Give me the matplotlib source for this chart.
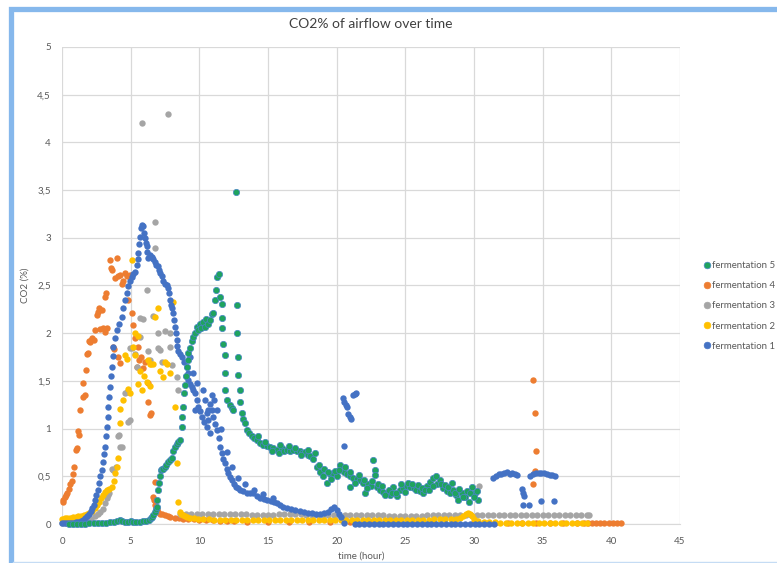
import matplotlib
matplotlib.use("Agg")
import matplotlib.pyplot as plt
from matplotlib.patches import Rectangle
from matplotlib.lines import Line2D
from matplotlib.ticker import FuncFormatter, MultipleLocator

plt.rcParams['font.family'] = ['Lato', 'DejaVu Sans']

# fermentation 1 (blue)
f1 = [(0.0, 0.01), (0.15, 0.01), (0.3, 0.01), (0.45, 0.01), (0.6, 0.01), (0.75, 0.01), (0.9, 0.01),
      (1.05, 0.02), (1.2, 0.02), (1.35, 0.03), (1.5, 0.04), (1.65, 0.06), (1.8, 0.08), (1.95, 0.11),
      (2.1, 0.14), (2.2, 0.17), (2.3, 0.2), (2.4, 0.25), (2.5, 0.3), (2.6, 0.36), (2.7, 0.43), (2.8, 0.5),
      (2.9, 0.57), (2.97, 0.65), (3.05, 0.73), (3.13, 0.81), (3.2, 0.92), (3.26, 1.02), (3.32, 1.12),
      (3.37, 1.23), (3.44, 1.33), (3.5, 1.44), (3.56, 1.55), (3.62, 1.65), (3.68, 1.76), (3.74, 1.86),
      (3.85, 1.95), (3.98, 2.03), (4.15, 2.1), (4.35, 2.17), (4.47, 2.26), (4.59, 2.35), (4.7, 2.42),
      (4.83, 2.49), (4.95, 2.55), (5.07, 2.59), (5.2, 2.62), (5.3, 2.64), (5.44, 2.71), (5.5, 2.78),
      (5.56, 2.84), (5.62, 2.93), (5.68, 3.01), (5.75, 3.1), (5.8, 3.13), (5.92, 3.12), (5.98, 3.05),
      (6.05, 3.0), (6.1, 2.95), (6.17, 2.91), (6.22, 2.85), (6.28, 2.79), (6.4, 2.82), (6.53, 2.8),
      (6.65, 2.78), (6.77, 2.75), (6.88, 2.72), (7.0, 2.7), (7.07, 2.66), (7.14, 2.63), (7.25, 2.6),
      (7.38, 2.55), (7.5, 2.52), (7.62, 2.5), (7.74, 2.47), (7.8, 2.42), (7.87, 2.35), (7.95, 2.3),
      (8.02, 2.26), (8.1, 2.21), (8.16, 2.14), (8.23, 2.07), (8.3, 2.0), (8.35, 1.93), (8.41, 1.87),
      (8.47, 1.81), (8.6, 1.78), (8.72, 1.75), (8.9, 1.7), (9.08, 1.65), (9.14, 1.58), (9.2, 1.51),
      (9.32, 1.47), (9.44, 1.44), (9.56, 1.4), (9.69, 1.37), (9.81, 1.3), (9.93, 1.23), (10.05, 1.18),
      (10.17, 1.12), (10.35, 1.07), (10.54, 1.02), (10.66, 1.2), (10.78, 1.26), (10.9, 1.2), (11.02, 1.12),
      (11.15, 1.05), (11.27, 0.99), (11.4, 0.9), (11.5, 0.81), (11.62, 0.74), (11.75, 0.68), (11.87, 0.64),
      (12.0, 0.58), (12.12, 0.53), (12.24, 0.49), (12.36, 0.46), (12.5, 0.42), (12.66, 0.39), (12.8, 0.38),
      (12.96, 0.36), (13.2, 0.35), (13.45, 0.33), (13.7, 0.32), (13.93, 0.32), (14.2, 0.29), (14.45, 0.27),
      (14.7, 0.26), (14.9, 0.25), (15.2, 0.24), (15.45, 0.23), (15.64, 0.22), (15.9, 0.2), (16.1, 0.18),
      (16.4, 0.17), (16.7, 0.16), (17.0, 0.15), (17.3, 0.14), (17.6, 0.13), (17.9, 0.12), (18.2, 0.12),
      (18.5, 0.11), (18.8, 0.11), (19.1, 0.12), (19.4, 0.13), (19.6, 0.16), (19.8, 0.18), (20.0, 0.15),
      (20.2, 0.11), (20.35, 0.07),
      (9.32, 1.75), (9.56, 1.58), (9.81, 1.48), (10.3, 1.4), (10.4, 1.3), (10.54, 1.16), (10.66, 1.09),
      (10.78, 0.95), (9.0, 1.55), (9.7, 1.2), (10.9, 1.35), (11.1, 1.3), (11.3, 1.2), (11.6, 1.0),
      (12.0, 0.75), (12.4, 0.6), (12.8, 0.48), (13.3, 0.42), (14.0, 0.36), (14.6, 0.31), (15.4, 0.27),
      (20.45, 1.32), (20.55, 1.28), (20.65, 1.25), (20.73, 1.23), (20.85, 1.15), (20.98, 1.12),
      (21.05, 1.1), (21.2, 1.35), (21.3, 1.36), (21.4, 1.37), (20.5, 0.82), (20.5, 0.01),
      (21.3, 0.0), (21.65, 0.0), (22.0, 0.0), (22.35, 0.0), (22.7, 0.0), (23.05, 0.0), (23.4, 0.0),
      (23.75, 0.0), (24.1, 0.0), (24.45, 0.0), (24.8, 0.0), (25.15, 0.0), (25.5, 0.0), (25.85, 0.0),
      (26.2, 0.0), (26.55, 0.0), (26.9, 0.0), (27.25, 0.0), (27.6, 0.0), (27.95, 0.0), (28.3, 0.0),
      (28.65, 0.0), (29.0, 0.0), (29.35, 0.0), (29.7, 0.0), (30.05, 0.0), (30.4, 0.0), (30.75, 0.0),
      (31.1, 0.0), (31.45, 0.0),
      (31.4, 0.48), (31.6, 0.5), (31.8, 0.52), (32.0, 0.52), (32.2, 0.53), (32.4, 0.54), (32.6, 0.52),
      (32.8, 0.53), (33.0, 0.52), (33.1, 0.51), (33.5, 0.37), (33.6, 0.33), (33.65, 0.29), (33.6, 0.2),
      (34.0, 0.2), (34.1, 0.5), (34.3, 0.52), (34.5, 0.53), (34.7, 0.53), (34.9, 0.53), (35.1, 0.53),
      (35.3, 0.52), (35.5, 0.51), (35.7, 0.51), (35.9, 0.5), (34.9, 0.24), (35.8, 0.24)]

# fermentation 2 (yellow)
f2 = [(0.0, 0.05), (0.2, 0.06), (0.4, 0.06), (0.6, 0.06), (0.8, 0.07), (1.0, 0.07), (1.2, 0.08),
      (1.4, 0.08), (1.6, 0.09), (1.8, 0.1), (2.0, 0.12), (2.2, 0.14), (2.4, 0.17), (2.55, 0.2),
      (2.7, 0.23), (2.85, 0.27), (3.0, 0.3), (3.13, 0.34), (3.3, 0.36), (3.45, 0.37), (3.62, 0.39),
      (3.75, 0.45), (3.86, 0.53), (3.98, 0.6), (4.1, 0.69), (4.22, 1.06), (4.22, 1.21), (4.45, 1.3),
      (4.59, 1.77), (4.7, 1.73), (4.83, 1.42), (4.95, 1.37), (5.07, 2.77), (5.2, 1.86), (5.3, 2.0),
      (5.3, 1.77), (5.5, 1.97), (5.56, 1.47), (5.68, 1.6), (5.8, 1.4), (6.0, 1.55), (6.17, 1.49),
      (6.28, 1.72), (6.4, 1.45), (6.4, 1.68), (6.5, 1.68), (6.65, 1.68), (6.77, 2.17), (7.0, 2.26),
      (7.14, 1.6), (7.38, 1.54), (7.5, 1.7), (7.62, 1.68), (7.87, 1.58), (8.1, 2.33), (8.23, 1.23),
      (8.35, 0.64), (8.47, 0.23),
      (8.6, 0.13), (8.7, 0.1), (8.8, 0.09), (8.95, 0.08), (9.1, 0.07), (9.3, 0.06), (9.6, 0.06),
      (9.9, 0.05), (10.3, 0.05), (10.7, 0.05), (11.1, 0.04), (11.5, 0.04), (11.9, 0.04), (12.3, 0.04),
      (12.7, 0.04), (13.1, 0.04), (13.5, 0.04), (13.9, 0.04), (14.3, 0.04), (14.7, 0.04), (15.1, 0.04),
      (15.5, 0.04), (15.9, 0.04), (16.3, 0.04), (16.7, 0.04), (17.1, 0.04), (17.5, 0.04), (17.9, 0.04),
      (18.3, 0.04), (18.7, 0.04), (19.1, 0.04), (19.5, 0.04), (19.9, 0.04), (20.3, 0.04), (20.7, 0.04),
      (21.1, 0.04), (21.5, 0.04), (21.9, 0.04), (22.3, 0.04), (22.7, 0.04), (23.1, 0.04), (23.5, 0.04),
      (23.9, 0.04), (24.3, 0.04), (24.7, 0.04), (25.1, 0.04), (25.5, 0.04), (25.9, 0.04), (26.3, 0.04),
      (26.7, 0.04), (27.1, 0.05), (27.5, 0.05), (27.9, 0.05), (28.3, 0.05), (28.7, 0.05), (29.0, 0.06),
      (29.2, 0.08), (29.4, 0.1), (29.55, 0.12), (29.7, 0.11), (29.85, 0.08), (30.0, 0.05), (30.3, 0.03),
      (30.7, 0.02), (31.1, 0.02), (31.5, 0.02), (31.9, 0.01), (32.3, 0.01), (32.7, 0.01), (33.1, 0.01),
      (33.5, 0.01), (33.9, 0.01), (34.3, 0.01), (34.7, 0.01), (35.1, 0.01), (35.5, 0.01), (35.9, 0.01),
      (36.3, 0.01), (36.7, 0.01), (37.1, 0.01), (37.5, 0.01), (37.9, 0.01), (38.2, 0.01)]

# fermentation 3 (grey)
f3 = [(0.0, 0.01), (0.3, 0.01), (0.6, 0.01), (0.9, 0.01), (1.2, 0.02), (1.5, 0.02), (1.8, 0.03),
      (2.1, 0.05), (2.4, 0.08), (2.65, 0.11), (2.8, 0.13), (3.0, 0.16), (3.15, 0.22), (3.25, 0.27),
      (3.37, 0.3), (3.45, 0.33), (3.62, 0.58), (3.74, 0.57), (3.9, 0.6), (4.1, 0.92), (4.15, 0.93),
      (4.22, 0.81), (4.35, 0.81), (4.59, 1.37), (4.7, 1.38), (4.83, 1.07), (4.95, 1.09), (4.95, 1.84),
      (5.1, 1.85), (5.3, 1.78), (5.44, 1.65), (5.68, 2.16), (5.68, 1.96), (5.8, 4.2), (5.9, 2.15),
      (6.17, 2.45), (6.28, 1.81), (6.4, 1.72), (6.6, 2.18), (6.77, 2.89), (6.77, 3.17), (7.0, 2.0),
      (7.0, 1.85), (7.14, 1.82), (7.3, 1.7), (7.5, 2.02), (7.7, 4.3), (7.87, 2.0), (7.87, 1.86),
      (7.99, 1.67), (8.35, 1.54), (8.47, 1.4),
      (8.6, 0.11), (9.0, 0.1), (9.4, 0.1), (9.8, 0.1), (10.2, 0.1), (10.6, 0.1), (11.0, 0.1), (11.4, 0.1),
      (11.8, 0.1), (12.2, 0.1), (12.6, 0.1), (13.0, 0.1), (13.4, 0.1), (13.8, 0.09), (14.2, 0.09),
      (14.6, 0.09), (15.0, 0.09), (15.4, 0.09), (15.8, 0.1), (16.2, 0.1), (16.6, 0.1), (17.0, 0.1),
      (17.4, 0.1), (17.8, 0.09), (18.2, 0.09), (18.6, 0.09), (19.0, 0.09), (19.4, 0.09), (19.8, 0.09),
      (20.2, 0.09), (20.6, 0.09), (21.0, 0.09), (21.4, 0.09), (21.8, 0.09), (22.2, 0.09), (22.6, 0.09),
      (23.0, 0.09), (23.4, 0.09), (23.8, 0.08), (24.2, 0.08), (24.6, 0.08), (25.0, 0.08), (25.4, 0.08),
      (25.8, 0.08), (26.2, 0.08), (26.6, 0.09), (27.0, 0.09), (27.4, 0.09), (27.8, 0.09), (28.2, 0.09),
      (28.6, 0.09), (29.0, 0.09), (29.4, 0.09), (29.8, 0.09), (30.2, 0.09), (30.4, 0.4), (30.6, 0.09),
      (31.0, 0.09), (31.4, 0.09), (31.8, 0.09), (32.2, 0.09), (32.6, 0.09), (33.0, 0.09), (33.4, 0.09),
      (33.8, 0.09), (34.2, 0.09), (34.6, 0.09), (35.0, 0.09), (35.4, 0.09), (35.8, 0.09), (36.2, 0.09),
      (36.6, 0.09), (37.0, 0.09), (37.4, 0.09), (37.8, 0.09), (38.2, 0.09), (38.4, 0.09)]

# fermentation 4 (orange)
f4 = [(0.05, 0.23), (0.1, 0.25), (0.2, 0.28), (0.3, 0.3), (0.4, 0.33), (0.5, 0.37), (0.6, 0.42),
      (0.7, 0.45), (0.8, 0.52), (0.9, 0.6), (1.0, 0.78), (1.1, 0.8), (1.19, 0.98), (1.25, 0.93),
      (1.31, 1.19), (1.5, 1.33), (1.55, 1.48), (1.65, 1.35), (1.75, 1.61), (1.85, 1.78), (1.92, 1.79),
      (2.0, 1.92), (2.04, 1.91), (2.1, 1.93), (2.2, 1.95), (2.3, 1.93), (2.4, 2.03), (2.53, 2.19),
      (2.6, 2.22), (2.7, 2.26), (2.8, 2.04), (2.89, 2.24), (3.0, 2.05), (3.13, 2.38), (3.13, 2.01),
      (3.2, 2.42), (3.3, 2.05), (3.5, 2.77), (3.55, 2.68), (3.62, 2.66), (3.74, 1.86), (3.81, 1.83),
      (3.85, 2.58), (3.98, 2.79), (4.05, 2.6), (4.1, 1.75), (4.22, 2.61), (4.22, 1.69), (4.35, 2.52),
      (4.45, 2.55), (4.59, 2.63), (4.7, 2.6), (4.83, 2.35), (4.95, 2.61), (5.07, 2.21), (5.16, 2.09),
      (5.3, 1.95), (5.44, 1.65), (5.56, 1.86), (5.6, 1.72), (5.75, 1.75), (5.92, 1.63), (6.05, 1.7),
      (6.28, 1.48), (6.28, 1.28), (6.4, 1.14), (6.5, 1.16), (6.77, 0.44),
      (6.65, 0.28), (6.72, 0.25), (6.8, 0.2), (6.9, 0.16), (7.0, 0.13), (7.15, 0.11), (7.3, 0.1),
      (7.5, 0.09), (7.7, 0.08), (7.9, 0.07), (8.2, 0.06), (8.5, 0.06), (8.8, 0.05), (9.2, 0.05),
      (9.6, 0.05), (10.0, 0.04), (10.5, 0.04), (11.0, 0.04), (11.5, 0.03), (12.0, 0.03), (12.5, 0.03),
      (13.5, 0.02), (15.0, 0.02), (16.5, 0.02), (18.0, 0.02), (19.5, 0.02), (21.0, 0.02), (22.5, 0.02),
      (24.0, 0.02), (25.5, 0.02), (27.0, 0.02), (28.5, 0.02), (30.0, 0.02), (31.5, 0.01), (32.5, 0.01),
      (33.5, 0.01), (34.5, 0.01), (35.5, 0.01), (36.5, 0.01), (37.5, 0.01), (38.0, 0.01), (38.3, 0.01),
      (38.6, 0.01), (38.9, 0.01), (39.2, 0.01), (39.5, 0.01), (39.8, 0.01), (40.1, 0.01), (40.4, 0.01),
      (40.7, 0.01),
      (34.33, 1.51), (34.45, 1.16), (34.52, 0.77), (34.28, 0.42), (34.45, 0.56)]

# fermentation 5 (green)
f5 = [(0.5, 0.0), (0.8, 0.0), (1.07, 0.0), (1.4, 0.0), (1.7, 0.0), (2.0, 0.01), (2.3, 0.01),
      (2.6, 0.01), (2.9, 0.01), (3.2, 0.01), (3.5, 0.02), (3.8, 0.02), (3.98, 0.03), (4.2, 0.04),
      (4.4, 0.03), (4.6, 0.02), (4.8, 0.02), (5.0, 0.03), (5.2, 0.02), (5.4, 0.02), (5.68, 0.02),
      (5.9, 0.03), (6.1, 0.03), (6.3, 0.04), (6.45, 0.06), (6.55, 0.07), (6.65, 0.09), (6.75, 0.13),
      (6.85, 0.16), (6.9, 0.18), (6.95, 0.25), (7.0, 0.36), (7.05, 0.43), (7.14, 0.5), (7.2, 0.57),
      (7.3, 0.58), (7.38, 0.58), (7.5, 0.6), (7.6, 0.62), (7.75, 0.65), (7.87, 0.67), (7.99, 0.69),
      (8.1, 0.76), (8.2, 0.81), (8.35, 0.84), (8.47, 0.86), (8.6, 0.88), (8.72, 1.02), (8.72, 1.12),
      (8.84, 1.23), (8.9, 1.37), (8.96, 1.46), (9.02, 1.55), (9.08, 1.65), (9.14, 1.72), (9.2, 1.79),
      (9.3, 1.85), (9.45, 1.92), (9.56, 1.96), (9.7, 2.0), (9.8, 2.06), (9.93, 2.03), (10.05, 2.1),
      (10.15, 2.05), (10.3, 2.12), (10.4, 2.07), (10.5, 2.15), (10.6, 2.1), (10.78, 2.14), (10.9, 2.2),
      (11.02, 2.21), (11.14, 2.35), (11.2, 2.45), (11.27, 2.59), (11.4, 2.62), (11.5, 2.38),
      (11.63, 2.31), (11.63, 2.16), (11.63, 2.05), (11.75, 1.89), (11.87, 1.77), (11.87, 1.58),
      (11.87, 1.4), (12.0, 1.3), (12.2, 1.25), (12.35, 1.22), (12.47, 1.19), (12.65, 3.48), (12.72, 2.3),
      (12.72, 2.0), (12.84, 1.75), (12.84, 1.56), (12.96, 1.4), (12.96, 1.28), (13.1, 1.16), (13.2, 1.1),
      (13.33, 1.06), (13.5, 0.99), (13.65, 0.95), (13.8, 0.92), (14.0, 0.9), (14.2, 0.88), (14.4, 0.85),
      (14.66, 0.83), (14.9, 0.82), (15.15, 0.81), (15.4, 0.8), (15.64, 0.78), (15.8, 0.74), (16.0, 0.8),
      (16.2, 0.77), (16.4, 0.78), (16.6, 0.76), (16.8, 0.78), (17.1, 0.76), (17.3, 0.77), (17.5, 0.74),
      (17.7, 0.75), (17.9, 0.72), (18.06, 0.71), (18.3, 0.68), (18.55, 0.6), (18.8, 0.55), (19.03, 0.5),
      (19.28, 0.43), (19.5, 0.52), (19.75, 0.53), (20.0, 0.5), (20.25, 0.62), (20.5, 0.55), (20.75, 0.52),
      (20.98, 0.5), (20.98, 0.39), (21.2, 0.48), (21.45, 0.47), (21.7, 0.46), (21.9, 0.43), (22.07, 0.32),
      (22.3, 0.42), (22.5, 0.4), (22.67, 0.67), (22.8, 0.57), (22.8, 0.51), (22.92, 0.39), (23.15, 0.36),
      (23.4, 0.34), (23.65, 0.32), (23.9, 0.3), (24.13, 0.39), (24.38, 0.29), (24.6, 0.36), (24.85, 0.38),
      (25.1, 0.4), (25.35, 0.39), (25.6, 0.38), (25.8, 0.36), (26.05, 0.35), (26.3, 0.32), (26.55, 0.4),
      (26.8, 0.44), (27.05, 0.48), (27.3, 0.42), (27.5, 0.46), (27.75, 0.38), (28.0, 0.35), (28.26, 0.32),
      (28.5, 0.36), (28.7, 0.3), (28.86, 0.25), (29.1, 0.33), (29.35, 0.28), (29.6, 0.23), (29.84, 0.39),
      (30.05, 0.33), (30.3, 0.25),
      (14.3, 0.92), (14.8, 0.86), (15.3, 0.76), (15.9, 0.83), (16.5, 0.82), (17.0, 0.8), (17.4, 0.72),
      (17.9, 0.78), (18.4, 0.74), (18.7, 0.62), (19.1, 0.58), (19.4, 0.55), (19.6, 0.47), (19.9, 0.56),
      (20.2, 0.57), (20.6, 0.6), (21.0, 0.55), (21.3, 0.43), (21.6, 0.51), (22.0, 0.46), (22.2, 0.38),
      (22.6, 0.45), (23.0, 0.42), (23.3, 0.4), (23.5, 0.3), (23.8, 0.36), (24.0, 0.33), (24.3, 0.33),
      (24.7, 0.42), (25.0, 0.34), (25.2, 0.43), (25.5, 0.42), (25.9, 0.41), (26.2, 0.38), (26.4, 0.36),
      (26.7, 0.36), (27.0, 0.4), (27.2, 0.5), (27.6, 0.42), (27.9, 0.41), (28.1, 0.39), (28.4, 0.43),
      (28.6, 0.33), (28.9, 0.37), (29.2, 0.28), (29.5, 0.35), (29.7, 0.33), (30.0, 0.28), (30.2, 0.35)]

names = ['fermentation 5', 'fermentation 4', 'fermentation 3', 'fermentation 2', 'fermentation 1']
colors = {'fermentation 1': '#4472C4', 'fermentation 2': '#FFC000', 'fermentation 3': '#A5A5A5',
          'fermentation 4': '#ED7D31', 'fermentation 5': '#1FA35F'}
series = {'fermentation 1': f1, 'fermentation 2': f2, 'fermentation 3': f3,
          'fermentation 4': f4, 'fermentation 5': f5}

fig = plt.figure(figsize=(7.77, 5.63), dpi=100)
ax = fig.add_axes([62 / 777, 39 / 563, 618 / 777, 477 / 563])

# draw order as in the original workbook (green ends up on top)
for name in ['fermentation 4', 'fermentation 3', 'fermentation 2', 'fermentation 1', 'fermentation 5']:
    xs = [p[0] for p in series[name]]
    ys = [p[1] for p in series[name]]
    if name == 'fermentation 5':
        ax.scatter(xs, ys, s=21, c=colors[name], edgecolors='#4A86C8', linewidths=0.5,
                   clip_on=False, zorder=3)
    else:
        ax.scatter(xs, ys, s=21, c=colors[name], linewidths=0, clip_on=False, zorder=3)

ax.set_xlim(0, 45)
ax.set_ylim(0, 5)
ax.xaxis.set_major_locator(MultipleLocator(5))
ax.yaxis.set_major_locator(MultipleLocator(0.5))
ax.yaxis.set_major_formatter(FuncFormatter(lambda v, p: ('%g' % v).replace('.', ',')))
ax.grid(True, color='#D9D9D9', linewidth=0.9)
ax.set_axisbelow(True)
for s in ['top', 'right', 'left']:
    ax.spines[s].set_visible(False)
ax.spines['bottom'].set_color('#D9D9D9')
ax.tick_params(length=0, labelsize=7, colors='#595959')
ax.tick_params(axis='y', pad=8)
ax.tick_params(axis='x', pad=9)

ax.set_title('CO2% of airflow over time', fontsize=10, color='#404040', pad=14)
ax.set_xlabel('time (hour)', fontsize=7, color='#595959')
ax.set_ylabel('CO2 (%)', fontsize=7, color='#595959')
ax.xaxis.set_label_coords(0.485, -0.058)
ax.yaxis.set_label_coords(-0.052, 0.5)

handles = [Line2D([], [], linestyle='none', marker='o', markersize=4.8,
                  markerfacecolor=colors[n],
                  markeredgecolor='#4A86C8' if n == 'fermentation 5' else colors[n],
                  markeredgewidth=0.5) for n in names]
fig.legend(handles, names, loc='center left', bbox_to_anchor=(700 / 777, 1 - 306 / 563),
           frameon=False, fontsize=6.9, labelcolor='#595959', handlelength=0.6,
           handletextpad=0.3, labelspacing=1.15, borderaxespad=0)

# chart frame
fig.patches.append(Rectangle((10.5 / 777, -0.05), 1.1, (563 - 8.5) / 563 + 0.05,
                             transform=fig.transFigure, fill=False, edgecolor='#86B8EC',
                             linewidth=3.8, clip_on=False))
fig.lines.append(Line2D([13 / 777, 1], [1.5 / 563, 1.5 / 563], transform=fig.transFigure,
                        color='#C5DCF4', linewidth=1))

fig.savefig('out.png', dpi=100)
